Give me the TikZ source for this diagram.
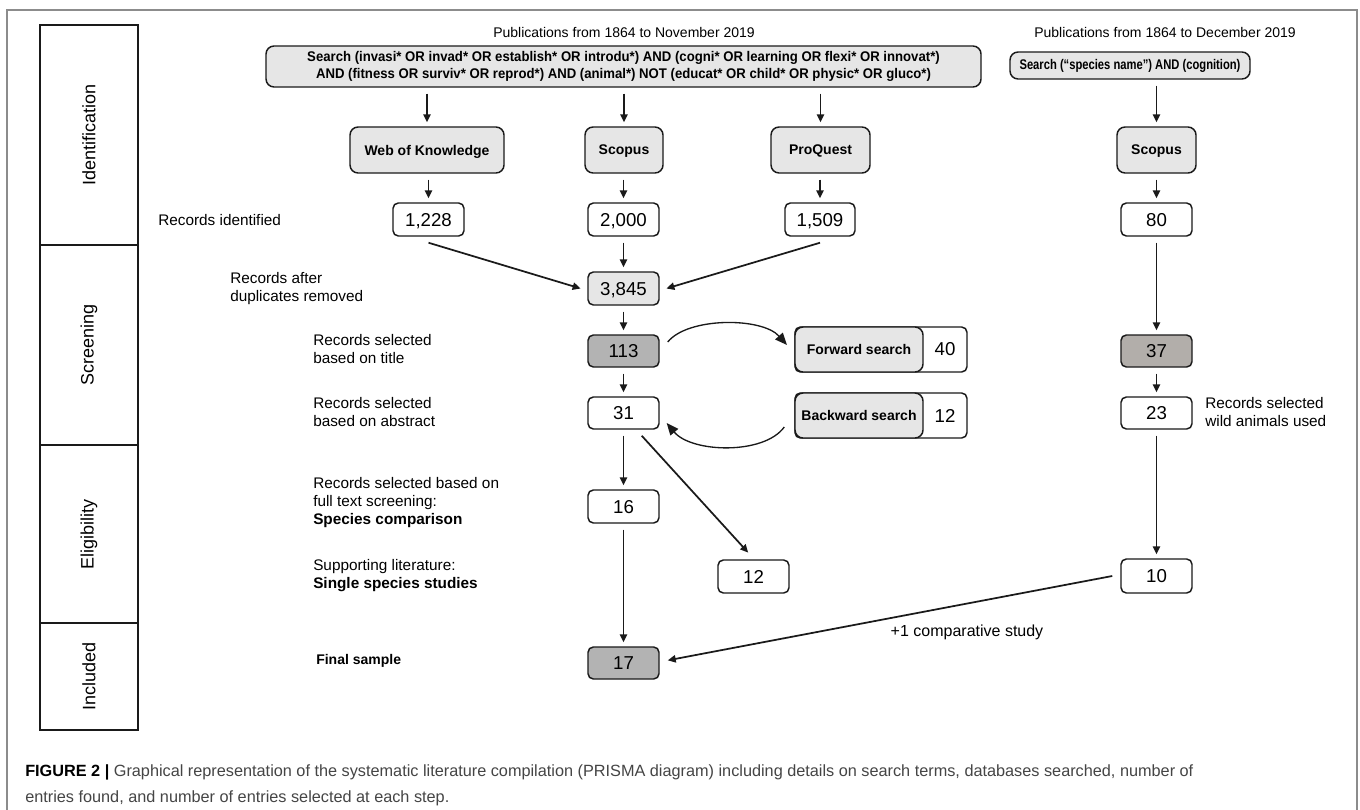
\documentclass[tikz,border=0pt]{standalone}
\usepackage{fontspec}
\setmainfont{Liberation Sans}
\usepackage{graphicx}
\usetikzlibrary{arrows.meta,calc}
\definecolor{lightg}{HTML}{E6E6E6}
\definecolor{darkg}{HTML}{B3B3B3}
\definecolor{warmg}{HTML}{B2AEAA}
\definecolor{linec}{HTML}{1A1A1A}
\definecolor{frameg}{HTML}{8C8C8C}
\definecolor{capg}{HTML}{454545}
\newcommand{\sqz}[2]{\scalebox{#1}[1]{#2}}
\begin{document}
\begin{tikzpicture}[x=0.75pt,y=-0.75pt,
  sz/.style 2 args={minimum width=#1*0.75pt, minimum height=#2*0.75pt},
  box/.style={draw=linec, line width=1.1pt, rounded corners=4pt, inner sep=0pt},
  numbox/.style={box, fill=white, text depth=0pt, font=\fontsize{14}{16}\selectfont},
  dbbox/.style={box, fill=lightg, rounded corners=6pt, text depth=0pt, font=\bfseries\fontsize{10.5}{12}\selectfont},
  srch/.style={box, fill=lightg, rounded corners=6pt, align=center, font=\bfseries\fontsize{10.5}{12.75}\selectfont},
  lbl/.style={anchor=west, align=left, inner sep=0pt, font=\fontsize{11.5}{13.5}\selectfont},
  pub/.style={inner sep=0pt, font=\fontsize{10.5}{12}\selectfont},
  arr/.style={-{Triangle[length=6pt,width=5.5pt]}, line width=1.3pt, draw=linec, shorten <=4.5pt, shorten >=3pt},
  darr/.style={-{Triangle[length=6pt,width=5.5pt]}, line width=1.3pt, draw=linec},
  carr/.style={-{Triangle[length=9pt,width=7.5pt]}, line width=1pt, draw=linec},
  stagebox/.style={draw=linec, line width=0.8pt, inner sep=0pt},
  stagelbl/.style={rotate=90, inner sep=0pt, font=\fontsize{13.5}{15}\selectfont}
]
\useasboundingbox (0,0) rectangle (1360,810);
\fill[white] (0,0) rectangle (1360,810);
\draw[frameg, line width=0.9pt] (7,815) -- (7,10) -- (1357,10) -- (1357,815);

% stage column
\node[stagebox, sz={98}{220}] (sId) at (89,135) {};
\node[stagebox, sz={98}{200}] (sSc) at (89,345) {};
\node[stagebox, sz={98}{178}] (sEl) at (89,534) {};
\node[stagebox, sz={98}{107}] (sIn) at (89,676.5) {};
\node[stagelbl] (tId) at (sId.center) {Identification};
\node[stagelbl] (tSc) at (sSc.center) {Screening};
\node[stagelbl] (tEl) at (sEl.center) {Eligibility};
\node[stagelbl] (tIn) at (sIn.center) {Included};

% top
\node[pub] (pubA) at (624,32) {Publications from 1864 to November 2019};
\node[pub] (pubB) at (1165,32) {Publications from 1864 to December 2019};
\node[srch, sz={715}{41}] (srchA) at (623.5,66.5) {\sqz{0.94}{Search (invasi* OR invad* OR establish* OR introdu*) AND (cogni* OR learning OR flexi* OR innovat*)}\\ \sqz{0.94}{AND (fitness OR surviv* OR reprod*) AND (animal*) NOT (educat* OR child* OR physic* OR gluco*)}};
\node[srch, sz={240}{27}] (srchB) at (1130,65.5) {\sqz{0.8}{Search (“species name”) AND (cognition)}};

% databases
\node[dbbox, sz={154}{46}] (wok) at (427,150) {Web of Knowledge};
\node[dbbox, sz={78}{46}] (scop) at (624,150) {Scopus};
\node[dbbox, sz={99}{46}] (proq) at (820.5,150) {ProQuest};
\node[dbbox, sz={79}{46}] (scop2) at (1156.5,150) {Scopus};

\draw[arr] (srchA.south -| wok.north) -- (wok.north);
\draw[arr] (srchA.south -| scop.north) -- (scop.north);
\draw[arr] (srchA.south -| proq.north) -- (proq.north);
\draw[arr] (srchB.south -| scop2.north) -- (scop2.north);

% records
\node[numbox, sz={71}{33}] (n1228) at (428.5,219.5) {1,228};
\node[numbox, sz={71}{33}] (n2000) at (623.5,219.5) {2,000};
\node[numbox, sz={70}{33}] (n1509) at (820,219.5) {1,509};
\node[numbox, sz={71}{33}] (n80) at (1156.5,219.5) {80};
\node[lbl] (lRI) at (158,220) {Records identified};

\draw[arr] (wok.south -| n1228.north) -- (n1228.north);
\draw[arr] (scop.south -| n2000.north) -- (n2000.north);
\draw[arr] (proq.south -| n1509.north) -- (n1509.north);
\draw[arr] (scop2.south -| n80.north) -- (n80.north);

\node[numbox, fill=lightg, sz={71}{33}] (n3845) at (623.5,288.5) {3,845};
\node[lbl] (lDup) at (230,289) {Records after\\duplicates removed};
\draw[arr] (n2000) -- (n3845);
\draw[darr] ([yshift=-4.5pt]n1228.south) -- ([xshift=-5pt]n3845.west);
\draw[darr] ([yshift=-4.5pt]n1509.south) -- ([xshift=5pt]n3845.east);

\node[numbox, fill=darkg, sz={71}{32}] (n113) at (623.5,351) {113};
\node[lbl] (lTit) at (313,349) {Records selected\\based on title};
\draw[arr] (n3845) -- (n113);

\node[numbox, sz={71}{32}] (n31) at (623.5,413) {31};
\node[lbl] (lAbs) at (313,412) {Records selected\\based on abstract};
\draw[arr] (n113) -- (n31);

% forward / backward
\node[box, fill=white, sz={172}{45}] (fwd) at (881,349.5) {};
\node[dbbox, sz={128}{45}] (fwdL) at (859,349.5) {Forward search};
\node[inner sep=0pt, font=\fontsize{14}{16}\selectfont] (fwdN) at (945,349.5) {40};
\node[box, fill=white, sz={172}{45}] (bwd) at (881,415.5) {};
\node[dbbox, sz={128}{45}] (bwdL) at (859,415.5) {Backward search};
\node[inner sep=0pt, font=\fontsize{14}{16}\selectfont] (bwdN) at (945,415.5) {12};

\coordinate (fs) at ([xshift=6pt,yshift=6.75pt]n113.east);
\coordinate (fe) at ([xshift=-5.5pt,yshift=3.4pt]fwd.west);
\draw[carr] (fs) .. controls ($(fs)+(20,-25)$) and ($(fe)+(-25,-28)$) .. (fe);
\coordinate (bs) at ([xshift=-7.5pt,yshift=-8.6pt]bwd.west);
\coordinate (be) at ([xshift=5.2pt,yshift=-7.5pt]n31.east);
\draw[carr] (bs) .. controls ($(bs)+(-20,28)$) and ($(be)+(25,30)$) .. (be);

% eligibility
\node[numbox, sz={71}{33}] (n16) at (623.5,506.5) {16};
\node[lbl] (lFull) at (313,502.5) {Records selected based on\\full text screening:\\\textbf{Species comparison}};
\draw[arr] (n31) -- (n16);
\node[numbox, sz={71}{33}] (n12) at (753.5,576.5) {12};
\node[lbl] (lSup) at (313,575.5) {Supporting literature:\\\textbf{Single species studies}};
\draw[darr] ([xshift=-13.5pt,yshift=-4.5pt]n31.south east) -- ([xshift=-4pt,yshift=5pt]n12.north);

% included
\node[numbox, fill=darkg, sz={71}{32}] (n17) at (623.5,663) {17};
\node[lbl, font=\bfseries\fontsize{10.5}{12}\selectfont] (lFin) at (316,661) {Final sample};
\draw[arr] (n16) -- (n17);

% right column
\node[numbox, fill=warmg, sz={71}{32}] (n37) at (1156.5,351) {37};
\node[numbox, sz={71}{32}] (n23) at (1156.5,413) {23};
\node[lbl] (lWild) at (1205,412.5) {Records selected\\wild animals used};
\node[numbox, sz={71}{34}] (n10) at (1156.5,576) {10};
\draw[arr] (n80) -- (n37);
\draw[arr] (n37) -- (n23);
\draw[arr] (n23) -- (n10);
\draw[darr] ([xshift=-6pt]n10.west) -- ([xshift=6pt,yshift=2pt]n17.east);
\node[inner sep=0pt, font=\fontsize{12}{14}\selectfont] (lComp) at (967,632) {+1 comparative study};

% caption
\node[anchor=west, align=left, inner sep=0pt, text=capg, font=\fontsize{12.2}{19.5}\selectfont] (cap) at (25,785) {\textcolor{black}{\textbf{FIGURE 2 |}} Graphical representation of the systematic literature compilation (PRISMA diagram) including details on search terms, databases searched, number of\\entries found, and number of entries selected at each step.};
\end{tikzpicture}
\end{document}
